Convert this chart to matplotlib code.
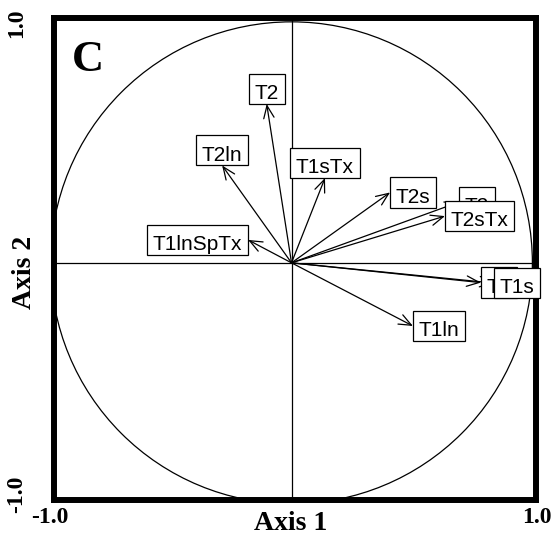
import matplotlib
matplotlib.use('Agg')
import matplotlib.pyplot as plt
from matplotlib.patches import Circle, Rectangle
from matplotlib.font_manager import FontProperties

# variables (arrow tips on the correlation circle)
labels = ['T2', 'T2ln', 'T1sTx', 'T2s', 'T1lnSpTx', 'T2', 'T2sTx', 'T1', 'T1s', 'T1ln']
axis1 = [-0.103, -0.288, 0.139, 0.409, -0.180, 0.695, 0.637, 0.786, 0.840, 0.504]
axis2 = [0.659, 0.404, 0.352, 0.292, 0.095, 0.252, 0.194, -0.082, -0.084, -0.262]
tick_labels = ['-1.0', '1.0']

fig = plt.figure(figsize=(5.57, 5.40), dpi=100)
ax = fig.add_axes([0.0961, 0.0741, 0.8662, 0.8926])
ax.set_xlim(-0.988, 1.015)
ax.set_ylim(-0.984, 1.016)
ax.set_xticks([])
ax.set_yticks([])
for s in ax.spines.values():
    s.set_linewidth(4.3)

# circle and cross
ax.add_patch(Circle((0, 0), 1, fill=False, lw=0.9, ec='black'))
ax.axhline(0, color='black', lw=0.9)
ax.axvline(0, color='black', lw=0.9)

# arrows
for x, y in zip(axis1, axis2):
    ax.annotate('', xy=(x, y), xytext=(0, 0),
                arrowprops=dict(arrowstyle='->,head_length=0.6,head_width=0.25',
                                lw=0.9, color='black', shrinkA=0, shrinkB=0,
                                mutation_scale=15))

# boxed labels placed outside the tip (like ade4 s.arrow)
fig.canvas.draw()
renderer = fig.canvas.get_renderer()
fsize = 15
fp = FontProperties(family='Liberation Sans', size=fsize)
em = fsize * fig.dpi / 72.0
o = ax.transData.transform((0, 0))
px_x = ax.transData.transform((1, 0))[0] - o[0]
px_y = ax.transData.transform((0, 1))[1] - o[1]

for i, (lab, x, y) in enumerate(zip(labels, axis1, axis2)):
    w, h, d = renderer.get_text_width_height_descent(lab, fp, ismath=False)
    bw = (w + 2 * 0.278 * em) / px_x
    bh = 1.45 * em / px_y
    if x > y and x > -y:
        x0, y0 = x, y - bh / 2
    elif x > y and x <= -y:
        x0, y0 = x - bw / 2, y - bh
    elif x <= y and x <= -y:
        x0, y0 = x - bw, y - bh / 2
    else:
        x0, y0 = x - bw / 2, y
    z = 3 + i * 0.01
    ax.add_patch(Rectangle((x0, y0), bw, bh, fc='white', ec='black', lw=0.9,
                           clip_on=False, zorder=z))
    ax.text(x0 + bw / 2, y0 + 0.23 * em / px_y, lab, fontproperties=fp,
            ha='center', va='baseline', zorder=z + 0.005, clip_on=False)

serif = 'Liberation Serif'
ax.text(0.0715, 0.913, 'C', transform=ax.transAxes, family=serif,
        fontweight='bold', fontsize=32, ha='center', va='center')
ax.text(0.492, -0.048, 'Axis 1', transform=ax.transAxes, family=serif,
        fontweight='bold', fontsize=20, ha='center', va='center')
ax.text(-0.061, 0.473, 'Axis 2', transform=ax.transAxes, family=serif,
        fontweight='bold', fontsize=20, ha='center', va='center', rotation=90)

# corner tick labels
ax.text(-0.007, -0.037, tick_labels[0], transform=ax.transAxes, family=serif,
        fontweight='bold', fontsize=17, ha='center', va='center')
ax.text(1.002, -0.037, tick_labels[1], transform=ax.transAxes, family=serif,
        fontweight='bold', fontsize=17, ha='center', va='center')
ax.text(-0.077, 0.012, tick_labels[0], transform=ax.transAxes, family=serif,
        fontweight='bold', fontsize=17, ha='center', va='center', rotation=90)
ax.text(-0.077, 0.990, tick_labels[1], transform=ax.transAxes, family=serif,
        fontweight='bold', fontsize=17, ha='center', va='center', rotation=90)

fig.savefig('out.png', dpi=100)
